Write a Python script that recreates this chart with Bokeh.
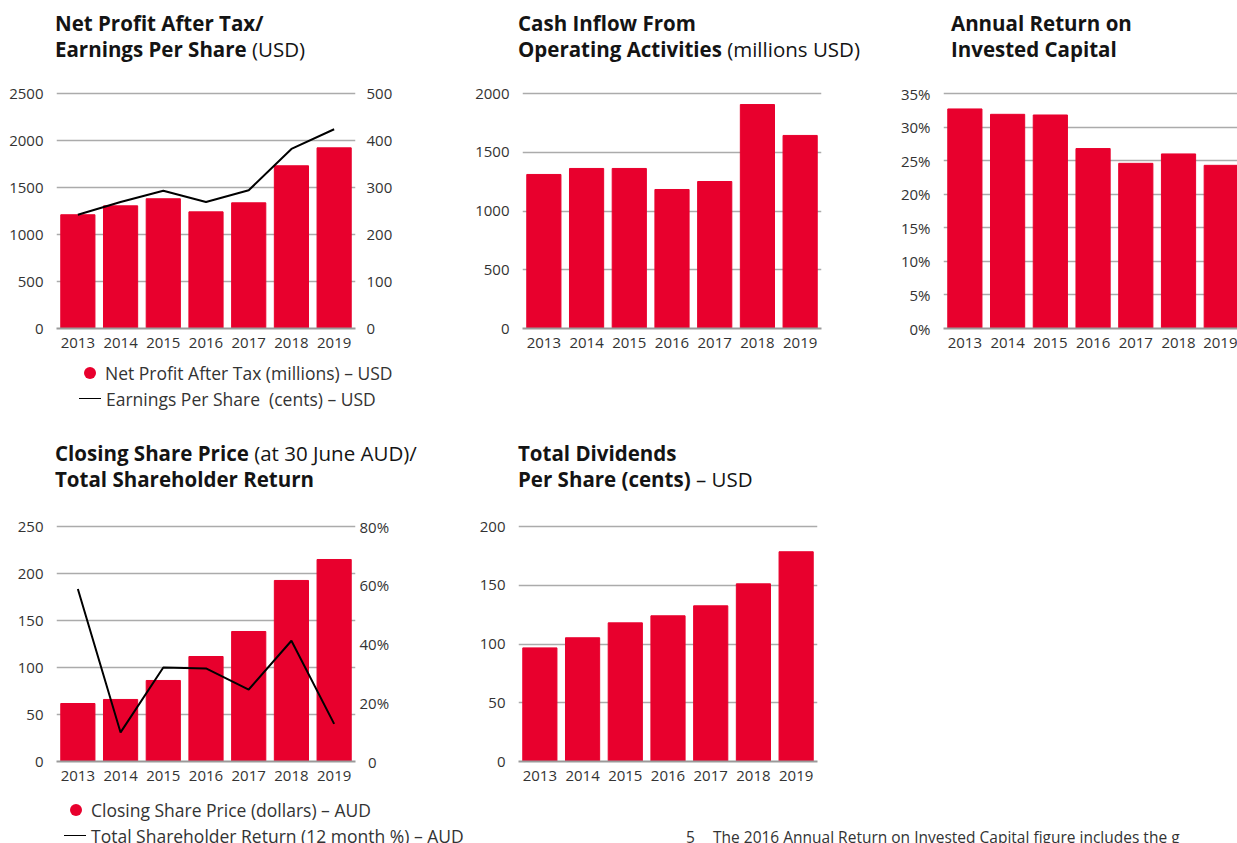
from bokeh.plotting import figure
from bokeh.models import (Range1d, LinearAxis, FixedTicker, PrintfTickFormatter, Div)
from bokeh.layouts import row, column
from bokeh.embed import file_html
from bokeh.resources import INLINE

# ---------------- data ----------------
years = [2013, 2014, 2015, 2016, 2017, 2018, 2019]
npat = [1210, 1305, 1380, 1241, 1337, 1731, 1922]          # millions USD
eps = [242, 269, 293, 269, 294, 382, 424]                  # cents USD
cash_inflow = [1311, 1362, 1362, 1183, 1251, 1906, 1643]   # millions USD
roic = [32.7, 31.9, 31.8, 26.8, 24.6, 26.0, 24.3]          # %
share_price = [61.7, 66.0, 86.2, 111.7, 138.3, 192.6, 214.9]  # AUD
tsr = [58.7, 9.9, 32.0, 31.7, 24.5, 41.1, 12.8]            # %
dps = [96.7, 105.3, 118.0, 124.0, 132.5, 151.2, 178.5]     # cents USD

npat_ticks = [0, 500, 1000, 1500, 2000, 2500]
eps_ticks = [0, 100, 200, 300, 400, 500]
cash_ticks = [0, 500, 1000, 1500, 2000]
roic_ticks = [0, 5, 10, 15, 20, 25, 30, 35]
price_ticks = [0, 50, 100, 150, 200, 250]
tsr_ticks = [0, 20, 40, 60, 80]
dps_ticks = [0, 50, 100, 150, 200]

# ---------------- style ----------------
RED = "#E8002D"
FONT = "Open Sans"
TXT = "#333333"
GRID = "#ababab"
PAD = 237 / 235   # frame is 2px taller than the gridded span so the top gridline shows


def style_axis(ax, standoff):
    ax.axis_line_color = None
    ax.major_tick_line_color = None
    ax.minor_tick_line_color = None
    ax.major_tick_out = 0
    ax.major_tick_in = 0
    ax.minor_tick_out = 0
    ax.major_label_standoff = standoff
    ax.major_label_text_font = FONT
    ax.major_label_text_font_size = "15px"
    ax.major_label_text_color = TXT


def make_fig(width, height, left, right, top, bottom, y_end, y_ticks, x_end=2019.5):
    p = figure(width=width, height=height, output_backend="svg", toolbar_location=None,
               x_range=Range1d(2012.5, x_end), y_range=Range1d(0, y_end * PAD),
               min_border_left=left, min_border_right=right,
               min_border_top=top, min_border_bottom=bottom)
    p.outline_line_color = None
    p.xgrid.grid_line_color = None
    p.ygrid.grid_line_color = GRID
    p.ygrid.grid_line_width = 1.3
    p.xaxis.ticker = FixedTicker(ticks=years)
    p.yaxis.ticker = FixedTicker(ticks=y_ticks)
    for ax in p.xaxis:
        style_axis(ax, 9)
        ax.axis_line_color = "#9a9a9a"
        ax.axis_line_width = 2
    for ax in p.yaxis:
        style_axis(ax, 13)
    return p


def right_axis(p, name, end, ticks, standoff, fmt=None):
    p.extra_y_ranges = {name: Range1d(0, end * PAD)}
    ax = LinearAxis(y_range_name=name, ticker=FixedTicker(ticks=ticks))
    style_axis(ax, standoff)
    if fmt is not None:
        ax.formatter = fmt
        ax.major_label_overrides = {0: "\u20070"}
    p.add_layout(ax, "right")


def legend_div(width, height, dot_x, dot_y, dot_label, dot_text_x,
               line_x0, line_x1, line_y, line_label, line_text_x):
    d = 12.8
    html = (
        f'<div style="position:relative;width:{width}px;height:{height}px;'
        f'font-family:\'{FONT}\';font-size:17.5px;color:{TXT};white-space:nowrap">'
        f'<span style="position:absolute;left:{dot_x - d / 2}px;top:{dot_y - d / 2}px;'
        f'width:{d}px;height:{d}px;border-radius:50%;background:{RED}"></span>'
        f'<span style="position:absolute;left:{dot_text_x}px;top:{dot_y - 12}px;'
        f'line-height:24px">{dot_label}</span>'
        f'<span style="position:absolute;left:{line_x0}px;top:{line_y - 1}px;'
        f'width:{line_x1 - line_x0}px;height:0;border-top:1.6px solid #000"></span>'
        f'<span style="position:absolute;left:{line_text_x}px;top:{line_y - 12}px;'
        f'line-height:24px">{line_label}</span></div>'
    )
    return Div(text=html, width=width, height=height, margin=0, styles={"overflow": "hidden"})


def title_div(html, width, height, left, top):
    return Div(text=(f'<div style="padding-left:{left}px;padding-top:{top}px;'
                     f'font-family:\'{FONT}\';font-size:20.5px;line-height:26px;'
                     f'color:#141414;white-space:nowrap">{html}</div>'),
               width=width, height=height, margin=0, styles={"overflow": "hidden"})


# ---------------- panel 1 ----------------
p1 = make_fig(468, 280, 56, 113, 13, 30, 2500, npat_ticks)
p1.vbar(x=years, top=npat, width=0.8, color=RED)
right_axis(p1, "eps", 500, eps_ticks, 11)
p1.line(years, eps, y_range_name="eps", line_color="black", line_width=2)
t1 = title_div("<b>Net Profit After Tax/</b><br><b>Earnings Per Share</b> (USD)", 468, 78, 55, 10)
g1 = legend_div(468, 78, 90, 15, "Net Profit After Tax (millions) \u2013 USD", 105,
                79, 101, 41, "Earnings Per Share&nbsp; (cents) \u2013 USD", 106)

# ---------------- panel 2 ----------------
p2 = make_fig(422, 358, 54, 69, 13, 108, 2000, cash_ticks)
p2.vbar(x=years, top=cash_inflow, width=0.8, color=RED)
t2 = title_div("<b>Cash Inflow From</b><br><b>Operating Activities</b> (millions USD)", 422, 78, 50, 10)

# ---------------- panel 3 ----------------
p3 = make_fig(347, 358, 53, 0, 13, 108, 35, roic_ticks, x_end=2019.38)
p3.yaxis.formatter = PrintfTickFormatter(format="%d%%")
p3.vbar(x=years, top=roic, width=0.8, color=RED)
t3 = title_div("<b>Annual Return on</b><br><b>Invested Capital</b>", 347, 78, 61, 10)

# ---------------- panel 4 ----------------
p4 = make_fig(468, 279, 56, 113, 13, 29, 250, price_ticks)
p4.vbar(x=years, top=share_price, width=0.8, color=RED)
right_axis(p4, "tsr", 80, tsr_ticks, 4, fmt=PrintfTickFormatter(format="%d%%"))
p4.line(years, tsr, y_range_name="tsr", line_color="black", line_width=2)
t4 = title_div("<b>Closing Share Price</b> (at 30 June AUD)/<br><b>Total Shareholder Return</b>", 468, 75, 55, 4)
g4 = legend_div(468, 53, 76, 20, "Closing Share Price (dollars) \u2013 AUD", 91,
                64, 86, 46, "Total Shareholder Return (12 month %) \u2013 AUD", 91)

# ---------------- panel 5 ----------------
p5 = make_fig(769, 309, 50, 420, 13, 59, 200, dps_ticks)
p5.vbar(x=years, top=dps, width=0.8, color=RED)
t5 = title_div("<b>Total Dividends</b><br><b>Per Share (cents)</b> \u2013 USD", 769, 75, 50, 4)

foot = Div(text=('<div style="padding-left:218px;padding-top:5px;font-family:\'Open Sans\';'
                 'font-size:15.5px;line-height:24px;color:#333;white-space:nowrap">'
                 '<span style="display:inline-block;width:27px">5</span>'
                 'The 2016 Annual Return on Invested Capital figure includes the g</div>'),
           width=769, height=23, margin=0, styles={"overflow": "hidden"})

top_row = row(column(t1, p1, g1), column(t2, p2), column(t3, p3))
bottom_row = row(column(t4, p4, g4), column(t5, p5, foot))
layout = column(top_row, bottom_row)

open("out.html", "w").write(file_html(layout, INLINE))
